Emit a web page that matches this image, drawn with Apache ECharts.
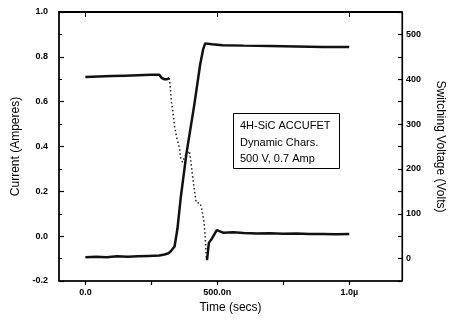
<!DOCTYPE html>
<html>
<head>
<meta charset="utf-8">
<script src="https://cdn.jsdelivr.net/npm/echarts@6/dist/echarts.min.js"></script>
<style>html,body{margin:0;padding:0;background:#fff;}#c{width:454px;height:324px;}</style>
</head>
<body>
<div id="c"></div>
<script>
// Voltage (right axis, volts) vs time (ns)
const voltTime  = [0, 40, 80, 120, 160, 200, 240, 280, 300, 315, 323, 338, 349, 361, 383, 413, 435, 446, 454, 461, 480, 520, 600, 700, 800, 900, 1000];
const voltValue = [3, 4, 3, 5, 4, 5, 6, 7, 9, 12, 16, 27, 67, 134, 234, 344, 433, 466, 480, 484, 478, 476, 475, 474, 473, 472, 472];

// Current (left axis, amperes): before, falling (dotted), after
const currPreTime  = [0, 50, 100, 150, 200, 250, 280, 290, 300, 310, 318];
const currPreValue = [0.71, 0.712, 0.714, 0.716, 0.718, 0.72, 0.72, 0.705, 0.70, 0.70, 0.705];
const currFallTime  = [318, 322, 326, 331, 338, 346, 357, 361, 368, 379, 394, 398, 405, 413, 420, 435, 442, 450, 454, 458, 461];
const currFallValue = [0.705, 0.66, 0.60, 0.56, 0.49, 0.44, 0.39, 0.35, 0.33, 0.36, 0.38, 0.35, 0.28, 0.205, 0.15, 0.147, 0.116, 0.058, -0.004, -0.09, -0.107];
const currPostTime  = [461, 468, 480, 498, 524, 560, 600, 650, 700, 750, 800, 850, 900, 950, 1000];
const currPostValue = [-0.107, -0.03, -0.01, 0.027, 0.015, 0.017, 0.014, 0.012, 0.013, 0.011, 0.012, 0.01, 0.01, 0.009, 0.01];

const xTickLabels = {0: '0.0', 500: '500.0n', 1000: '1.0\u00b5'};
const annotationLines = ['4H-SiC ACCUFET', 'Dynamic Chars.', '500 V, 0.7 Amp'];

const zip = (a, b) => a.map((v, i) => [v, b[i]]);
const FONT = 'Liberation Sans';
const labelStyle = {color: '#000', fontSize: 9, fontWeight: 'bold', fontFamily: FONT};
const nameStyle = {color: '#000', fontSize: 12, fontFamily: FONT};

const chart = echarts.init(document.getElementById('c'));
chart.setOption({
  animation: false,
  backgroundColor: '#fff',
  grid: {left: 59, right: 46, top: 12, bottom: 43, show: true, borderColor: '#000', borderWidth: 1},
  xAxis: [{
    type: 'value', min: -100, max: 1200, position: 'bottom',
    name: 'Time (secs)', nameLocation: 'middle', nameGap: 20, nameTextStyle: nameStyle,
    axisLine: {show: true, onZero: false, lineStyle: {color: '#000', width: 1.5}},
    axisTick: {show: true, inside: false, length: 4, customValues: [0, 250, 500, 750, 1000], lineStyle: {color: '#000', width: 1.2}},
    axisLabel: {customValues: [0, 500, 1000], formatter: v => xTickLabels[v] || '', margin: 7, ...labelStyle},
    splitLine: {show: false}
  }, {
    type: 'value', min: -100, max: 1200, position: 'top',
    axisLine: {show: true, onZero: false, lineStyle: {color: '#000', width: 2}},
    axisTick: {show: true, inside: true, length: 5, customValues: [0, 500, 1000], lineStyle: {color: '#000'}},
    axisLabel: {show: false}, splitLine: {show: false}
  }],
  yAxis: [{
    type: 'value', min: -0.2, max: 1.0, interval: 0.2, position: 'left',
    name: 'Current (Amperes)', nameLocation: 'middle', nameGap: 36, nameRotate: 90, nameTextStyle: nameStyle,
    axisLine: {show: true, onZero: false, lineStyle: {color: '#000', width: 1.5}},
    axisTick: {show: true, inside: true, length: 5, lineStyle: {color: '#000', width: 1.2}},
    minorTick: {show: true, splitNumber: 2, length: 3, lineStyle: {color: '#000'}},
    axisLabel: {formatter: v => v.toFixed(1), margin: 11, ...labelStyle},
    splitLine: {show: false}
  }, {
    type: 'value', min: -50, max: 550, interval: 50, position: 'right',
    name: 'Switching Voltage (Volts)', nameLocation: 'middle', nameGap: 32, nameRotate: -90, nameTextStyle: nameStyle,
    axisLine: {show: true, onZero: false, lineStyle: {color: '#000', width: 1.2}},
    axisTick: {show: true, inside: true, length: 4, lineStyle: {color: '#000', width: 1.2}},
    axisLabel: {formatter: v => (v >= 0 && v <= 500 && v % 100 === 0) ? String(v) : '', margin: 4, ...labelStyle},
    splitLine: {show: false}
  }],
  graphic: [{
    type: 'rect', left: 233, top: 113, z: 10,
    shape: {width: 106, height: 55},
    style: {fill: '#fff', stroke: '#000', lineWidth: 1}
  }, {
    type: 'text', left: 240, top: 118, z: 11,
    style: {text: annotationLines.join('\n'), fill: '#000', fontSize: 11, fontFamily: FONT, lineHeight: 16.5}
  }],
  series: [{
    type: 'line', xAxisIndex: 0, yAxisIndex: 1, data: zip(voltTime, voltValue),
    showSymbol: false, lineStyle: {color: '#111', width: 2.5}
  }, {
    type: 'line', xAxisIndex: 0, yAxisIndex: 0, data: zip(currPreTime, currPreValue),
    showSymbol: false, lineStyle: {color: '#111', width: 2.5}
  }, {
    type: 'line', xAxisIndex: 0, yAxisIndex: 0, data: zip(currFallTime, currFallValue),
    showSymbol: false, lineStyle: {color: '#222', width: 1.5, type: [1.5, 2.5]}
  }, {
    type: 'line', xAxisIndex: 0, yAxisIndex: 0, data: zip(currPostTime, currPostValue),
    showSymbol: false, lineStyle: {color: '#111', width: 2.5}
  }]
});
</script>
</body>
</html>
